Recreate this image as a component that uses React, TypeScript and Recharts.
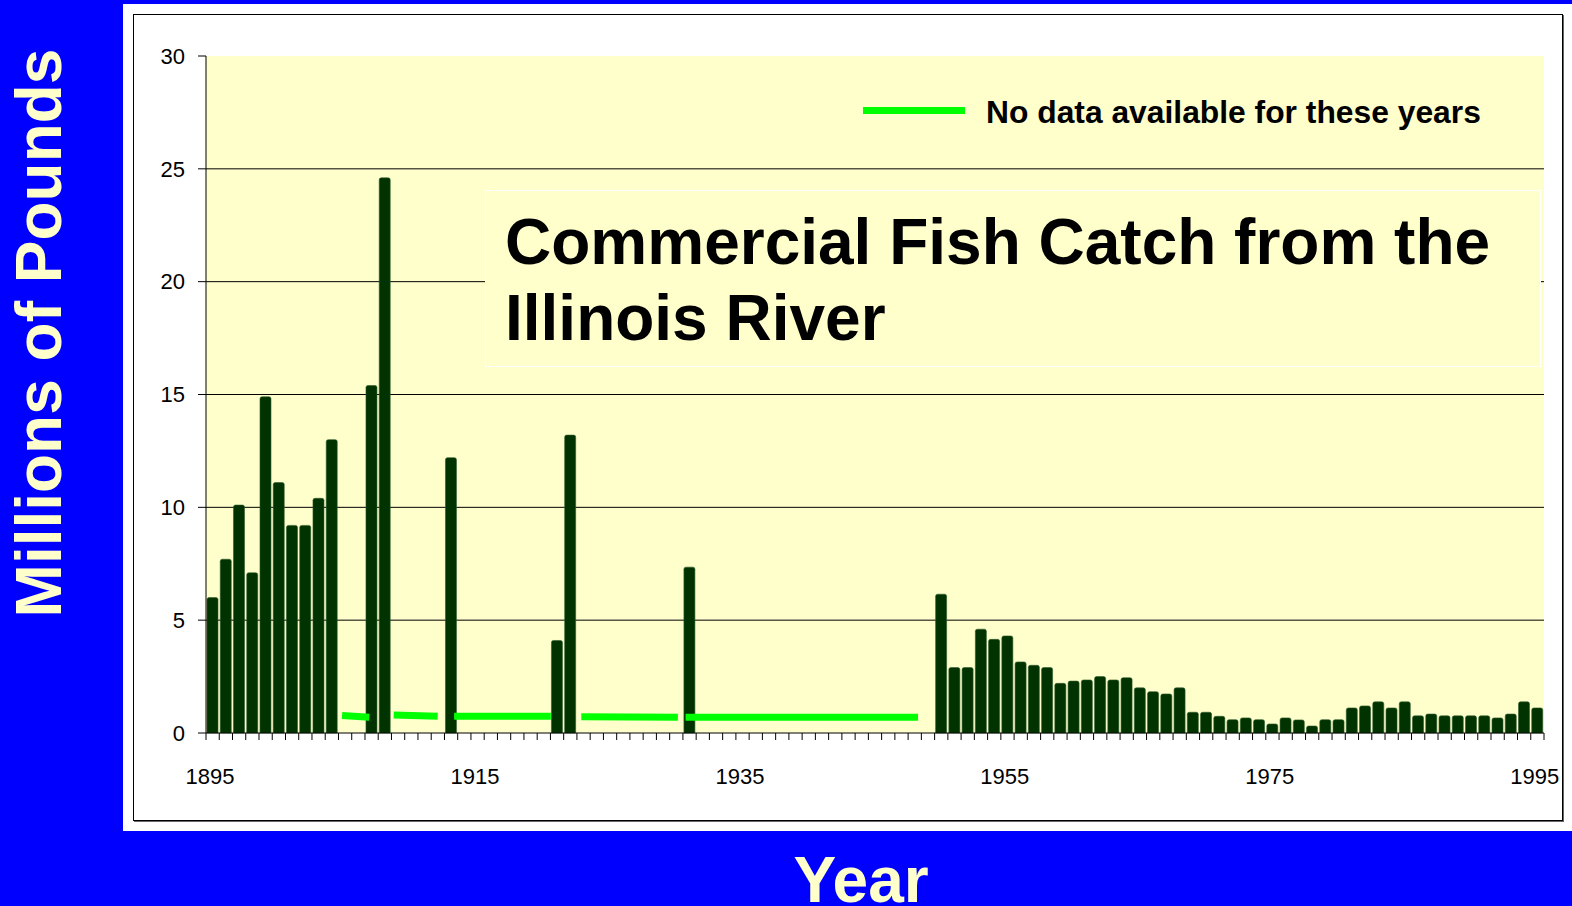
import { ComposedChart, Bar, Line, XAxis, YAxis, CartesianGrid } from 'recharts';

const FONT = "'Liberation Sans', Arial, sans-serif";

const FIRST_YEAR = 1895;
const LAST_YEAR = 1995;
const YEARS = Array.from({ length: LAST_YEAR - FIRST_YEAR + 1 }, (_, i) => FIRST_YEAR + i);

// millions of pounds, null = no data
const CATCH_1895_1904 = [6.0, 7.7, 10.1, 7.1, 14.9, 11.1, 9.2, 9.2, 10.4, 13.0];
const CATCH_1905_1949 = [
  null, null, 15.4, 24.6, null, null, null, null, 12.2, null,
  null, null, null, null, null, null, 4.1, 13.2, null, null,
  null, null, null, null, null, null, 7.35, null, null, null,
  null, null, null, null, null, null, null, null, null, null,
  null, null, null, null, null
];
const CATCH_1950_1995 = [
  6.15, 2.9, 2.9, 4.6, 4.15, 4.3, 3.15, 3.0, 2.9, 2.2,
  2.3, 2.35, 2.5, 2.35, 2.45, 2.0, 1.83, 1.73, 2.0, 0.92,
  0.92, 0.74, 0.59, 0.67, 0.59, 0.4, 0.67, 0.58, 0.31, 0.59,
  0.59, 1.11, 1.2, 1.38, 1.11, 1.38, 0.76, 0.84, 0.76, 0.76,
  0.76, 0.76, 0.67, 0.84, 1.38, 1.11
];
const CATCH = [...CATCH_1895_1904, ...CATCH_1905_1949, ...CATCH_1950_1995];

// "no data" markers, segments split by nulls
const GAP_X = [1904.77, 1906.83, 1907, 1908.67, 1911.99, 1912.5, 1913.23, 1920.53, 1921, 1922.83, 1930.12, 1930.4, 1930.7, 1948.25];
const GAP_Y = [0.78, 0.7, null, 0.8, 0.74, null, 0.74, 0.74, null, 0.72, 0.7, null, 0.7, 0.7];

const Y_TICKS = [0, 5, 10, 15, 20, 25, 30];
const GRID_VALUES = [5, 10, 15, 20, 25];

const W = 1572;
const H = 906;
const PLOT_LEFT = 206;
const PLOT_RIGHT = 1544;
const PLOT_TOP = 56;
const PLOT_BOTTOM = 733;
const X_AXIS_H = 60;
const STEP = (PLOT_RIGHT - PLOT_LEFT) / YEARS.length;

const chartData = YEARS.map((year, i) => ({ year, catch: CATCH[i] }));
const gapData = GAP_X.map((x, i) => ({ x, y: GAP_Y[i] }));

const YearTick = (props: any) => {
  const { x, y, payload, index } = props;
  const left = x - STEP / 2;
  const year = Number(payload.value);
  return (
    <g>
      <line x1={left} x2={left} y1={y} y2={y + 7} stroke="#000" />
      {index === YEARS.length - 1 && (
        <line x1={x + STEP / 2} x2={x + STEP / 2} y1={y} y2={y + 7} stroke="#000" />
      )}
      {(year - FIRST_YEAR) % 20 === 0 && (
        <text x={left + 4} y={y + 51} textAnchor="middle" fontSize={22} fill="#000" fontFamily={FONT}>
          {year}
        </text>
      )}
    </g>
  );
};

const App = () => {
  return (
    <div
      style={{
        position: 'absolute',
        left: 0,
        top: 0,
        width: W,
        height: H,
        background: '#0000FF',
        overflow: 'hidden',
        fontFamily: FONT
      }}
    >
      <div style={{ position: 'absolute', left: 123, top: 4, right: 0, height: 827, background: '#fff' }} />
      <div
        style={{
          position: 'absolute',
          left: 133,
          top: 14,
          width: 1428,
          height: 805,
          border: '1px solid #000',
          boxShadow: '1px 1px 0 #666'
        }}
      />

      <div style={{ position: 'absolute', left: 0, top: 0 }}>
        <ComposedChart
          width={W}
          height={H}
          data={chartData}
          margin={{ top: PLOT_TOP, right: W - PLOT_RIGHT, bottom: H - PLOT_BOTTOM - X_AXIS_H, left: 0 }}
        >
          <CartesianGrid
            vertical={false}
            horizontalValues={GRID_VALUES}
            stroke="#000"
            strokeWidth={1}
            fill="#FFFFCC"
            fillOpacity={1}
          />
          <XAxis
            dataKey="year"
            type="category"
            interval={0}
            height={X_AXIS_H}
            axisLine={{ stroke: '#000' }}
            tickLine={false}
            tickSize={0}
            tickMargin={0}
            tick={YearTick}
          />
          <XAxis
            xAxisId="gap"
            dataKey="x"
            type="number"
            domain={[FIRST_YEAR - 0.5, LAST_YEAR + 0.5]}
            allowDataOverflow
            hide
          />
          <YAxis
            width={PLOT_LEFT}
            domain={[0, 30]}
            ticks={Y_TICKS}
            interval={0}
            axisLine={{ stroke: '#000' }}
            tickLine={{ stroke: '#000' }}
            tickSize={8}
            tickMargin={13}
            tick={{ fill: '#000', fontSize: 22, fontFamily: FONT }}
          />
          <Line
            xAxisId="gap"
            data={gapData}
            dataKey="y"
            stroke="#00FF00"
            strokeWidth={7}
            strokeLinecap="butt"
            dot={false}
            activeDot={false}
            connectNulls={false}
            isAnimationActive={false}
          />
          <Bar
            dataKey="catch"
            barSize={11}
            fill="#003300"
            stroke="#2f5a2f"
            strokeWidth={0.6}
            radius={[2, 2, 0, 0]}
            isAnimationActive={false}
          />
        </ComposedChart>
      </div>

      <div
        style={{
          position: 'absolute',
          left: 485,
          top: 190,
          width: 1056,
          height: 177,
          boxSizing: 'border-box',
          border: '1.5px solid #fff',
          background: '#FFFFCC',
          padding: '13px 0 0 19px',
          fontSize: 64,
          fontWeight: 'bold',
          lineHeight: '76px',
          color: '#000',
          whiteSpace: 'nowrap'
        }}
      >
        Commercial Fish Catch from the
        <br />
        Illinois River
      </div>

      <div
        style={{
          position: 'absolute',
          left: 863,
          top: 94,
          height: 36,
          display: 'flex',
          alignItems: 'center',
          whiteSpace: 'nowrap'
        }}
      >
        <span style={{ display: 'inline-block', width: 102, height: 7, background: '#00FF00', marginTop: -3 }} />
        <span style={{ marginLeft: 21, fontSize: 31.8, fontWeight: 'bold', lineHeight: '36px', color: '#000' }}>
          No data available for these years
        </span>
      </div>

      <div
        style={{
          position: 'absolute',
          left: 39,
          top: 333,
          transform: 'translate(-50%, -50%) rotate(-90deg)',
          fontSize: 64,
          fontWeight: 'bold',
          lineHeight: '64px',
          color: '#FFFFCC',
          whiteSpace: 'nowrap'
        }}
      >
        Millions of Pounds
      </div>

      <div
        style={{
          position: 'absolute',
          left: 861,
          top: 855,
          transform: 'translateX(-50%)',
          fontSize: 64,
          fontWeight: 'bold',
          lineHeight: '50px',
          color: '#FFFFCC',
          whiteSpace: 'nowrap'
        }}
      >
        Year
      </div>
    </div>
  );
};

export default App;
